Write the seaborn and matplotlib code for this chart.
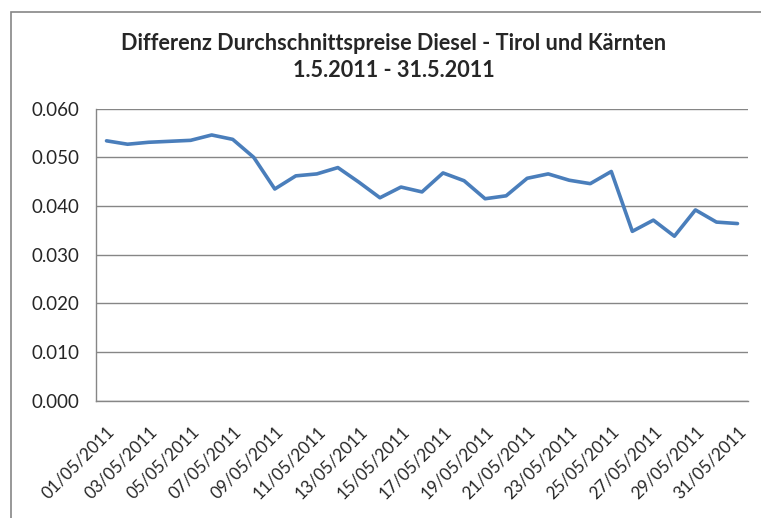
import matplotlib
matplotlib.use('Agg')
import matplotlib.pyplot as plt
import matplotlib.patches as mpatches
from matplotlib.ticker import MultipleLocator, FixedLocator, FuncFormatter
import seaborn as sns
import pandas as pd

# Differenz der Durchschnittspreise (EUR/l) pro Tag, Mai 2011
dates = ['%02d/05/2011' % d for d in range(1, 32)]
diff = [0.0534, 0.0527, 0.0531, 0.0533, 0.0535, 0.0546, 0.0537, 0.0500,
        0.0435, 0.0462, 0.0466, 0.0479, 0.0449, 0.0417, 0.0439, 0.0429,
        0.0468, 0.0452, 0.0415, 0.0421, 0.0457, 0.0466, 0.0453, 0.0446,
        0.0471, 0.0348, 0.0371, 0.0338, 0.0392, 0.0367, 0.0364]
title = 'Differenz Durchschnittspreise Diesel - Tirol und Kärnten\n1.5.2011 - 31.5.2011'

df = pd.DataFrame({'idx': range(len(dates)), 'Datum': dates, 'Differenz': diff})

sns.set_style('white')
plt.rcParams['font.family'] = ['Lato', 'DejaVu Sans']

fig = plt.figure(figsize=(7.61, 5.18), dpi=100)
ax = fig.add_axes([96 / 761, 1 - 400.7 / 518, (748 - 96) / 761, (400.7 - 108.7) / 518])

# chart border like the excel chart area
fig.patches.append(mpatches.Rectangle((11 / 761, -0.1), 1.2, 1.1 - 12 / 518,
                                      transform=fig.transFigure, fill=False,
                                      edgecolor='#868686', linewidth=1.2))

sns.lineplot(data=df, x='idx', y='Differenz', ax=ax, color='#4a7ebb', linewidth=2.6)

ax.set_xlim(-0.5, len(dates) - 0.5)
ax.set_ylim(0, 0.06)
ax.yaxis.set_major_locator(MultipleLocator(0.01))
ax.yaxis.set_major_formatter(FuncFormatter(lambda v, p: '%.3f' % v))
ax.grid(axis='y', color='#868686', linewidth=1)
ax.set_axisbelow(True)

ax.xaxis.set_major_locator(FixedLocator(list(range(0, len(dates), 2))))
ax.set_xticklabels(dates[::2], rotation=45, ha='right', va='top', rotation_mode='anchor')
ax.xaxis.set_minor_locator(FixedLocator([i - 0.5 for i in range(0, len(dates), 2)]))
ax.tick_params(axis='x', which='major', length=0, pad=16, labelsize=12.3)
ax.tick_params(axis='x', which='minor', length=4, width=1, color='#868686', direction='out')
ax.tick_params(axis='y', length=6, width=1, color='#868686', direction='out', pad=6, labelsize=13.5)

for s in ['top', 'right']:
    ax.spines[s].set_visible(False)
for s in ['left', 'bottom']:
    ax.spines[s].set_color('#868686')
    ax.spines[s].set_linewidth(1)

ax.set_xlabel('')
ax.set_ylabel('')
fig.text(0.517, 1 - 57 / 518, title, ha='center', va='center', fontsize=15.6,
         fontweight='bold', linespacing=1.3)

fig.savefig('out.png', dpi=100, facecolor='white')
